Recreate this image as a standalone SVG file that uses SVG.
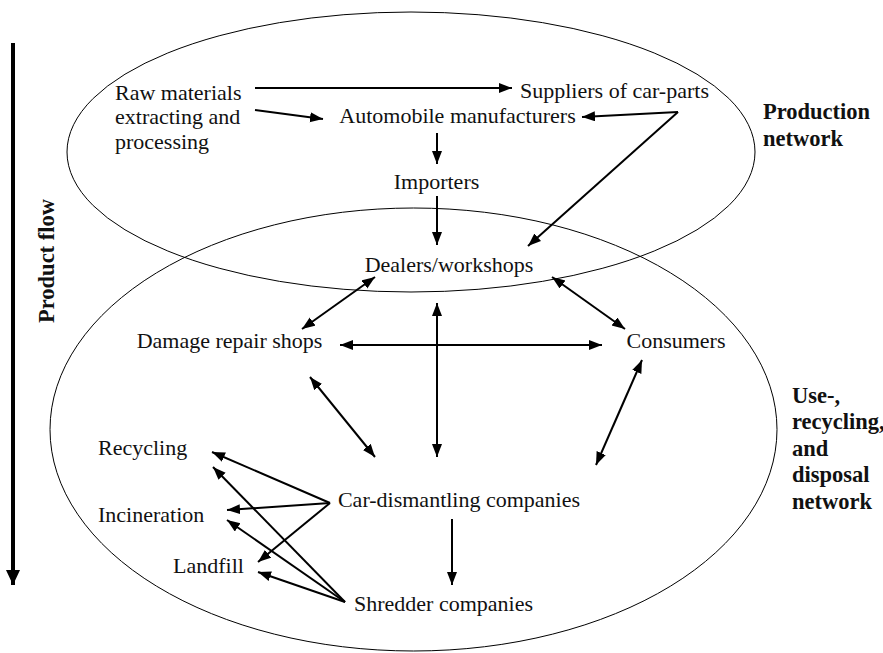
<svg xmlns="http://www.w3.org/2000/svg" width="883" height="653" viewBox="0 0 883 653">
<style>
.t{font-family:"Liberation Serif","Times New Roman",serif;font-size:22px;fill:#111}
.b{font-family:"Liberation Serif","Times New Roman",serif;font-size:22.5px;font-weight:bold;fill:#111}
.m{text-anchor:middle}
.c{stroke:#000;stroke-width:2;fill:none}
.e{stroke:#000;stroke-width:1;fill:none}
</style>
<defs>
<marker id="ah" markerUnits="userSpaceOnUse" markerWidth="14" markerHeight="11" refX="13" refY="5" orient="auto-start-reverse" viewBox="0 0 14 11">
<path d="M0,0 L13,5 L0,10 z" fill="#000"/>
</marker>
<marker id="big" markerUnits="userSpaceOnUse" markerWidth="16" markerHeight="16" refX="15" refY="7" orient="auto" viewBox="0 0 16 16">
<path d="M0,0 L15,7 L0,14 z" fill="#000"/>
</marker>
</defs>
<g id="networks">
<ellipse id="production-network" class="e" cx="411" cy="152" rx="344" ry="140"/>
<ellipse id="use-network" class="e" cx="413.5" cy="429.5" rx="363.5" ry="221.5"/>
</g>
<g id="connectors">
<line class="c" x1="255" y1="88" x2="512" y2="88" marker-end="url(#ah)"/>
<line class="c" x1="255" y1="110" x2="323" y2="119" marker-end="url(#ah)"/>
<line class="c" x1="678" y1="112" x2="582" y2="117" marker-end="url(#ah)"/>
<line class="c" x1="678" y1="112" x2="528" y2="246" marker-end="url(#ah)"/>
<line class="c" x1="437" y1="133" x2="437" y2="164" marker-end="url(#ah)"/>
<line class="c" x1="437" y1="196" x2="437" y2="245" marker-end="url(#ah)"/>
<line class="c" x1="375" y1="277" x2="302" y2="329" marker-start="url(#ah)" marker-end="url(#ah)"/>
<line class="c" x1="340" y1="345" x2="602" y2="345" marker-start="url(#ah)" marker-end="url(#ah)"/>
<line class="c" x1="437" y1="303" x2="437" y2="457" marker-start="url(#ah)" marker-end="url(#ah)"/>
<line class="c" x1="552" y1="277" x2="625" y2="329" marker-start="url(#ah)" marker-end="url(#ah)"/>
<line class="c" x1="310" y1="377" x2="375" y2="457" marker-start="url(#ah)" marker-end="url(#ah)"/>
<line class="c" x1="642" y1="360" x2="596" y2="465" marker-start="url(#ah)" marker-end="url(#ah)"/>
<line class="c" x1="452" y1="519" x2="452" y2="585" marker-end="url(#ah)"/>
<line class="c" x1="330" y1="503" x2="212" y2="452" marker-end="url(#ah)"/>
<line class="c" x1="330" y1="503" x2="227" y2="510" marker-end="url(#ah)"/>
<line class="c" x1="330" y1="503" x2="258" y2="562" marker-end="url(#ah)"/>
<line class="c" x1="345" y1="602" x2="213" y2="467" marker-end="url(#ah)"/>
<line class="c" x1="345" y1="602" x2="227" y2="520" marker-end="url(#ah)"/>
<line class="c" x1="345" y1="602" x2="258" y2="572" marker-end="url(#ah)"/>
<line x1="13" y1="43" x2="13" y2="585" stroke="#000" stroke-width="4" marker-end="url(#big)"/>
</g>
<g id="product-flow"><text class="b" transform="translate(54,261) rotate(-90)" text-anchor="middle">Product flow</text></g>
<g id="raw-materials"><text class="t" x="115" y="100">Raw materials</text><text class="t" x="115" y="124">extracting and</text><text class="t" x="115" y="149">processing</text></g>
<g id="suppliers"><text class="t m" x="614.5" y="98">Suppliers of car-parts</text></g>
<g id="manufacturers"><text class="t m" x="457.5" y="123">Automobile manufacturers</text></g>
<g id="importers"><text class="t m" x="436.5" y="189">Importers</text></g>
<g id="dealers"><text class="t m" x="449" y="272">Dealers/workshops</text></g>
<g id="damage-repair"><text class="t m" x="229.5" y="348">Damage repair shops</text></g>
<g id="consumers"><text class="t m" x="676" y="348">Consumers</text></g>
<g id="car-dismantling"><text class="t m" x="459" y="507">Car-dismantling companies</text></g>
<g id="shredder"><text class="t m" x="443.5" y="611">Shredder companies</text></g>
<g id="recycling"><text class="t" x="98" y="455">Recycling</text></g>
<g id="incineration"><text class="t" x="98" y="522">Incineration</text></g>
<g id="landfill"><text class="t" x="173" y="573">Landfill</text></g>
<g id="production-label"><text class="b" x="763" y="119">Production</text><text class="b" x="763" y="146">network</text></g>
<g id="use-label"><text class="b" x="792" y="403">Use-,</text><text class="b" x="792" y="429">recycling,</text><text class="b" x="792" y="456">and</text><text class="b" x="792" y="482">disposal</text><text class="b" x="792" y="509">network</text></g>
</svg>
